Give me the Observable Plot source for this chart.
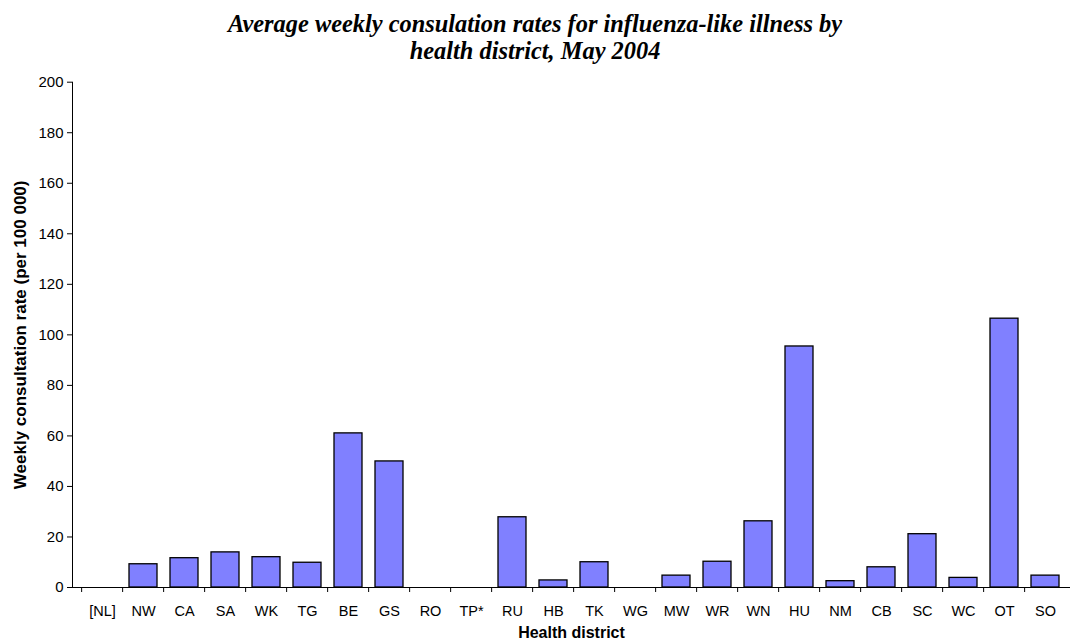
<!DOCTYPE html>
<html><head><meta charset="utf-8">
<script src="https://cdn.jsdelivr.net/npm/d3@7"></script>
<script src="https://cdn.jsdelivr.net/npm/@observablehq/plot@0.6"></script>
<style>
html,body{margin:0;padding:0;background:#fff;overflow:hidden;width:1070px;height:640px}
#title{height:70px;box-sizing:border-box;padding-top:10px;text-align:center;font-family:"Liberation Serif","Times New Roman",serif;font-weight:bold;font-style:italic;font-size:24.4px;line-height:27px;color:#000;white-space:nowrap}
</style></head><body>
<div id="title">Average weekly consulation rates for influenza-like illness by<br>health district, May 2004</div>
<div id="chart"></div>
<script>
const districts = ["[NL]","NW","CA","SA","WK","TG","BE","GS","RO","TP*","RU","HB","TK","WG","MW","WR","WN","HU","NM","CB","SC","WC","OT","SO"];
const rates = [0,9.2,11.6,13.9,12.0,9.8,61,49.9,0,0,27.8,2.8,10.0,0,4.7,10.2,26.2,95.4,2.5,8.0,21.1,3.8,106.4,4.7];
const yTicks = [0,20,40,60,80,100,120,140,160,180,200];
const yTitle = "Weekly consultation rate (per 100 000)";
const xTitle = "Health district";

const data = districts.map((d,i)=>({district:d, rate:rates[i]}));
const xRange=[72,1074];
const step=(xRange[1]-xRange[0])/districts.length;
const chart = Plot.plot({
 width:1070, height:570, marginTop:11.7, marginBottom:53, marginLeft:72, marginRight:0,
 style:{fontFamily:"'Liberation Sans', Arial, sans-serif", fontSize:"14px", color:"#000", background:"#fff", overflow:"visible"},
 x:{domain:districts, range:xRange, paddingInner:0.32, paddingOuter:0.16, label:null},
 y:{domain:[0,200], label:null},
 marks:[
  Plot.barY(data,{x:"district", y:"rate", fill:"#8080FF", stroke:"#000", strokeWidth:1.3}),
  Plot.axisY({ticks:yTicks, tickSize:5, tickPadding:4, label:null, fontSize:15}),
  Plot.axisX({ticks:districts, tickSize:0, tickPadding:18, label:null, fontSize:14.5}),
  Plot.axisX({ticks:districts, tickSize:5, text:null, dx:-step/2, label:null}),
  Plot.ruleY([0], {stroke:"#000"}),
  Plot.frame({anchor:"left"}),
  Plot.text([yTitle], {frameAnchor:"left", rotate:-90, dx:-52, textAnchor:"middle", lineAnchor:"middle", fontWeight:"bold", fontSize:17}),
  Plot.text([xTitle], {frameAnchor:"bottom", dy:45, textAnchor:"middle", lineAnchor:"middle", fontWeight:"bold", fontSize:16})
 ]
});
document.getElementById("chart").appendChild(chart);
</script>
</body></html>
